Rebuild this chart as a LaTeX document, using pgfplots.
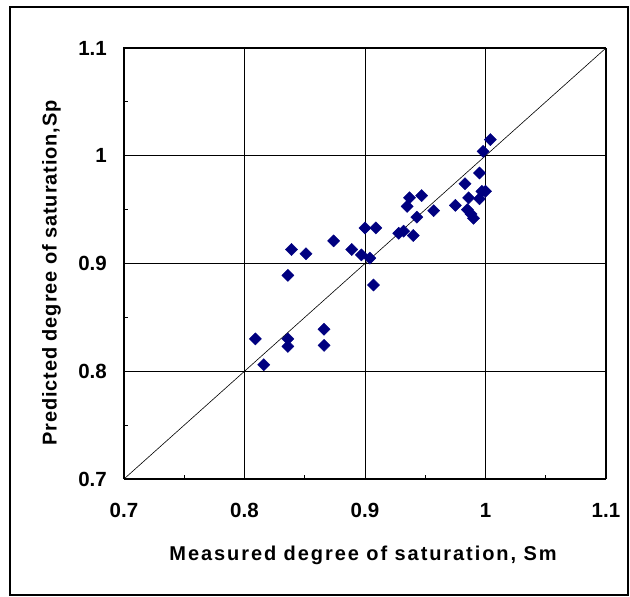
\documentclass[border=0pt]{standalone}
\usepackage{fontspec}
\setmainfont{Liberation Sans}
\newfontfamily\xlabfont[LetterSpace=9.6]{Liberation Sans}
\newfontfamily\ylabfont[LetterSpace=4.4]{Liberation Sans}
\usepackage{pgfplots}
\pgfplotsset{compat=1.18}
\definecolor{navy}{HTML}{000080}
\begin{document}
\begin{tikzpicture}
\begin{axis}[
  scale only axis,
  width=482pt, height=431pt,
  xmin=0.7, xmax=1.1, ymin=0.7, ymax=1.1,
  xtick={0.7,0.8,0.9,1.0,1.1},
  ytick={0.7,0.8,0.9,1.0,1.1},
  minor tick num=1,
  tick align=inside,
  xtick pos=bottom, ytick pos=left,
  major tick length=0pt, minor tick length=4pt,
  grid=major,
  major grid style={black, line width=0.75pt},
  axis line style={black, line width=1pt},
  every tick/.style={black, line width=0.8pt},
  /pgf/number format/assume math mode=true,
  /pgf/number format/fixed,
  /pgf/number format/precision=1,
  ticklabel style={font=\fontsize{20.5}{24}\selectfont\bfseries, inner sep=0pt},
  yticklabel style={anchor=east, xshift=-17pt},
  xticklabel style={anchor=north, yshift=-24pt},
  xlabel={Measured degree of saturation, Sm},
  ylabel={Predicted degree of saturation,Sp},
  xlabel style={font=\fontsize{20}{24}\selectfont\xlabfont\bfseries, at={(axis description cs:0.496,0)}, anchor=north, yshift=-67pt, inner sep=0pt},
  ylabel style={font=\fontsize{20}{24}\selectfont\ylabfont\bfseries, at={([xshift=-63pt]axis description cs:0,0.478)}, anchor=south, inner sep=0pt},
  clip=false,
]
\addplot[black, line width=0.6pt] coordinates {(0.7,0.7) (1.1,1.1)};
\addplot[only marks, mark=square*, mark size=4.3pt, mark options={rotate=45, fill=navy, draw=navy}] coordinates {
(0.809,0.830) (0.816,0.806) (0.836,0.889) (0.836,0.830) (0.836,0.823)
(0.839,0.913) (0.851,0.909) (0.866,0.839) (0.866,0.824) (0.874,0.921)
(0.889,0.913) (0.897,0.908) (0.900,0.933) (0.904,0.905) (0.909,0.933)
(0.907,0.880) (0.928,0.928) (0.932,0.930) (0.935,0.953) (0.937,0.961)
(0.940,0.926) (0.943,0.943) (0.947,0.963) (0.957,0.949) (0.975,0.954)
(0.983,0.974) (0.985,0.950) (0.986,0.961) (0.988,0.946) (0.990,0.942)
(0.995,0.984) (0.995,0.960) (0.997,0.967) (1.000,0.967) (0.998,1.004)
(1.004,1.015)
};
\end{axis}
\draw[line width=1.5pt] (-114pt,-116pt) rectangle (504pt,472pt);
\pgfresetboundingbox
\path[use as bounding box] (-124pt,-118pt) rectangle (506pt,479pt);
\end{tikzpicture}
\end{document}
